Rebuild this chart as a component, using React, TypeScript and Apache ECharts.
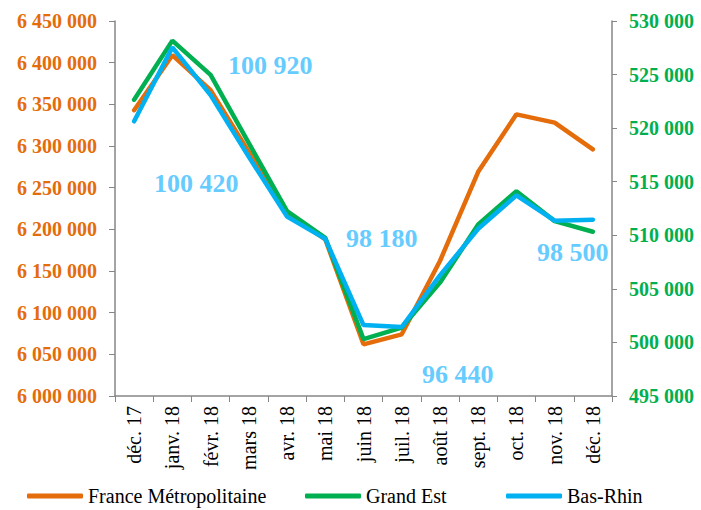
import React, { useEffect, useRef } from "react";
import * as echarts from "echarts";

const categories = ["déc. 17", "janv. 18", "févr. 18", "mars 18", "avr. 18", "mai 18", "juin 18", "juil. 18", "août 18", "sept. 18", "oct. 18", "nov. 18", "déc. 18"];
const franceMetro = [6343000, 6409000, 6367000, 6293000, 6220000, 6188000, 6062000, 6074000, 6162000, 6269000, 6338000, 6328000, 6296000];
const grandEst = [522650, 528170, 524970, 518600, 512250, 509770, 500310, 501390, 505580, 511010, 514110, 511320, 510330];
const basRhin = [100210, 100940, 100470, 99860, 99270, 99050, 98200, 98180, 98690, 99150, 99480, 99230, 99240];
const annotations = ["100 920", "100 420", "98 180", "96 440", "98 500"];

const FONT = "Liberation Serif";
const fmt = (v: number) => String(v).replace(/\B(?=(\d{3})+(?!\d))/g, " ");

export default function App() {
  const ref = useRef<HTMLDivElement>(null);
  useEffect(() => {
    if (!ref.current) return;
    const chart = echarts.init(ref.current, undefined, { renderer: "svg" });
    const axisColor = "#868686";
    const annPos = [
      { x: 228, y: 65 },
      { x: 154, y: 183 },
      { x: 346, y: 238 },
      { x: 422, y: 374 },
      { x: 537, y: 252 },
    ];
    const legendBase = {
      top: 486,
      icon: "roundRect",
      itemWidth: 56,
      itemHeight: 5,
      padding: 0,
      textStyle: { fontFamily: FONT, fontSize: 20, lineHeight: 20, color: "#000" },
      selectedMode: false,
    };
    chart.setOption({
      animation: false,
      backgroundColor: "#fff",
      grid: { left: 115, right: 89, top: 21, bottom: 114 },
      legend: [
        { ...legendBase, left: 27, data: ["France Métropolitaine"] },
        { ...legendBase, left: 305, data: ["Grand Est"] },
        { ...legendBase, left: 506, data: ["Bas-Rhin"] },
      ],
      xAxis: {
        type: "category",
        data: categories,
        boundaryGap: true,
        axisLine: { lineStyle: { color: axisColor, width: 1.5 } },
        axisTick: { show: true, length: 6, lineStyle: { color: axisColor } },
        axisLabel: { rotate: 90, margin: 10, fontFamily: FONT, fontSize: 20, color: "#000", interval: 0 },
      },
      yAxis: [
        {
          type: "value",
          min: 6000000,
          max: 6450000,
          interval: 50000,
          position: "left",
          splitLine: { show: false },
          axisLine: { show: true, lineStyle: { color: axisColor, width: 1.5 } },
          axisTick: { show: true, length: 6, lineStyle: { color: axisColor } },
          axisLabel: { margin: 18, fontFamily: FONT, fontSize: 20, fontWeight: "bold", color: "#E46C0A", formatter: fmt },
        },
        {
          type: "value",
          min: 495000,
          max: 530000,
          interval: 5000,
          position: "right",
          splitLine: { show: false },
          axisLine: { show: true, lineStyle: { color: axisColor, width: 1.5 } },
          axisTick: { show: true, length: 5, lineStyle: { color: axisColor } },
          axisLabel: { margin: 17, fontFamily: FONT, fontSize: 20, fontWeight: "bold", color: "#00B050", formatter: fmt },
        },
        {
          type: "value",
          min: 97500,
          max: 101200,
          show: false,
          splitLine: { show: false },
        },
      ],
      series: [
        {
          name: "France Métropolitaine",
          type: "line",
          yAxisIndex: 0,
          data: franceMetro,
          symbol: "none",
          z: 2,
          itemStyle: { color: "#E46C0A" },
          lineStyle: { color: "#E46C0A", width: 4.5, cap: "round" },
        },
        {
          name: "Grand Est",
          type: "line",
          yAxisIndex: 1,
          data: grandEst,
          symbol: "none",
          z: 3,
          itemStyle: { color: "#00B050" },
          lineStyle: { color: "#00B050", width: 4.5, cap: "round" },
        },
        {
          name: "Bas-Rhin",
          type: "line",
          yAxisIndex: 2,
          data: basRhin,
          symbol: "none",
          z: 4,
          itemStyle: { color: "#00B0F0" },
          lineStyle: { color: "#00B0F0", width: 4.5, cap: "round" },
        },
      ],
      graphic: annotations.map((t, i) => ({
        type: "text",
        x: annPos[i].x,
        y: annPos[i].y,
        z: 10,
        style: {
          text: t,
          fill: "#66CCFF",
          fontFamily: FONT,
          fontSize: 26,
          fontWeight: "bold",
          verticalAlign: "middle",
        },
      })),
    });
    return () => chart.dispose();
  }, []);
  return <div ref={ref} style={{ position: "fixed", left: 0, top: 0, width: 701, height: 510 }} />;
}
